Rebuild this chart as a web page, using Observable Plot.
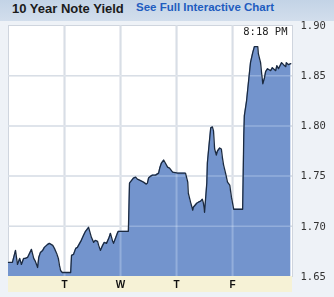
<!DOCTYPE html>
<html><head><meta charset="utf-8">
<script src="https://cdn.jsdelivr.net/npm/d3@7"></script>
<script src="https://cdn.jsdelivr.net/npm/@observablehq/plot@0.6"></script>
<style>
body{margin:0;background:#eef2f7;width:334px;height:297px;overflow:hidden;position:relative;font-family:"Liberation Sans",Arial,sans-serif}
#hdr{position:absolute;left:0;top:0;width:334px;height:21px;background:linear-gradient(#c3d3e6,#d2deec);z-index:2}
#t{position:absolute;left:12px;top:1px;font-weight:bold;font-size:13px;color:#1b1b1b;white-space:nowrap}
#l{position:absolute;left:136px;top:1px;font-weight:bold;font-size:11.5px;color:#1f5cbf;white-space:nowrap}
#chart{position:absolute;left:0;top:0}
#chart svg{display:block}
</style></head><body>
<div id="hdr"><span id="t">10 Year Note Yield</span><span id="l">See Full Interactive Chart</span></div>
<div id="chart"></div>
<script>
// time position in trading days since Monday open
const dayPos = [0.00,0.07,0.125,0.16,0.20,0.23,0.27,0.30,0.34,0.41,0.45,0.48,0.52,0.54,0.57,0.61,0.64,0.70,0.73,0.79,0.82,0.86,0.89,0.91,0.93,0.96,
  1.11,1.125,1.16,1.20,1.23,1.27,1.30,1.34,1.375,1.43,1.46,1.48,1.52,1.55,1.59,1.61,1.64,1.68,1.71,1.75,1.79,1.82,1.86,1.875,1.91,1.95,1.96,
  2.14,2.16,2.23,2.27,2.30,2.34,2.41,2.46,2.48,2.50,2.54,2.57,2.625,2.68,2.70,2.73,2.77,2.80,2.84,2.875,2.93,
  3.02,3.16,3.20,3.21,3.25,3.29,3.30,3.36,3.39,3.43,3.46,3.48,3.50,3.54,3.55,3.57,3.61,3.64,3.66,3.68,3.71,3.73,3.77,3.80,3.82,3.84,3.875,3.91,3.95,3.98,
  4.02,4.18,4.20,4.21,4.25,4.29,4.32,4.36,4.39,4.45,4.46,4.50,4.52,4.54,4.57,4.59,4.625,4.68,4.71,4.77,4.79,4.82,4.875,4.91,4.95,4.96,5.00,5.04];
const yields = [1.664,1.664,1.676,1.662,1.668,1.662,1.668,1.668,1.669,1.677,1.668,1.665,1.659,1.669,1.674,1.676,1.679,1.682,1.683,1.681,1.678,1.673,1.668,1.661,1.656,1.654,
  1.654,1.671,1.672,1.678,1.679,1.683,1.686,1.691,1.695,1.699,1.693,1.689,1.684,1.686,1.685,1.681,1.676,1.681,1.684,1.683,1.688,1.693,1.685,1.683,1.688,1.694,1.695,
  1.695,1.743,1.748,1.749,1.747,1.746,1.744,1.742,1.743,1.748,1.750,1.751,1.751,1.753,1.758,1.763,1.766,1.763,1.759,1.758,1.754,
  1.753,1.753,1.744,1.733,1.724,1.716,1.719,1.723,1.724,1.725,1.727,1.723,1.714,1.743,1.763,1.775,1.798,1.799,1.795,1.777,1.771,1.775,1.778,1.777,1.768,1.761,1.753,1.744,1.741,1.729,
  1.717,1.717,1.790,1.810,1.825,1.847,1.863,1.873,1.879,1.879,1.872,1.863,1.852,1.842,1.848,1.854,1.857,1.855,1.858,1.855,1.860,1.857,1.863,1.861,1.859,1.863,1.861,1.862];
const xDomain = [0, 5.07];
const dayTicks = [1, 2, 3, 4];
const dayLabels = ["T", "W", "T", "F"];
const yTicks = [1.65, 1.70, 1.75, 1.80, 1.85, 1.90];
const yGrid = [1.70, 1.75, 1.80, 1.85];
const stamp = "8:18 PM";

const data = dayPos.map((d, i) => ({d, v: yields[i]}));
const mono = "'DejaVu Sans Mono', 'Liberation Mono', monospace";

const chart = Plot.plot({
  width: 334, height: 297,
  marginLeft: 8, marginRight: 42, marginTop: 25, marginBottom: 21,
  style: {background: "transparent", fontFamily: "'Liberation Sans', Arial, sans-serif"},
  x: {domain: xDomain, axis: null},
  y: {domain: [yTicks[0], yTicks[yTicks.length - 1]], axis: null},
  marks: [
    Plot.frame({fill: "white", stroke: "#cfd5de"}),
    Plot.rect([0], {x1: xDomain[0], x2: xDomain[1], y1: yTicks[0], y2: yTicks[0], insetBottom: -16, fill: "#f6f2d6"}),
    Plot.gridX(dayTicks, {stroke: "#cdd3dc", strokeOpacity: 1, strokeWidth: 2}),
    Plot.gridY(yGrid, {stroke: "#cdd3dc", strokeOpacity: 1, strokeWidth: 1.5}),
    Plot.areaY(data, {x: "d", y1: yTicks[0], y2: "v", fill: "#7394cd"}),
    Plot.gridX(dayTicks, {stroke: "#3a3f48", strokeOpacity: 1, strokeWidth: 2, mixBlendMode: "screen"}),
    Plot.gridY(yGrid, {stroke: "#3a3f48", strokeOpacity: 1, strokeWidth: 1.5, mixBlendMode: "screen"}),
    Plot.line(data, {x: "d", y: "v", stroke: "#1b2a40", strokeWidth: 1.3}),
    Plot.axisX(dayTicks, {label: null, tickSize: 0, tickPadding: 4, tickFormat: d => dayLabels[dayTicks.indexOf(d)], fontWeight: "bold", fontSize: 10, fill: "#111"}),
    Plot.axisY(yTicks, {label: null, anchor: "right", tickSize: 0, tickPadding: 8, tickFormat: d => d.toFixed(2), fontFamily: mono, fontSize: 10.5, fill: "#333"}),
    Plot.text([stamp], {text: d => d, frameAnchor: "top-right", lineAnchor: "top", dx: -5, dy: 2, fontFamily: mono, fontSize: 10.5, fill: "#222"})
  ]
});
document.getElementById("chart").append(chart);
</script>
</body></html>
